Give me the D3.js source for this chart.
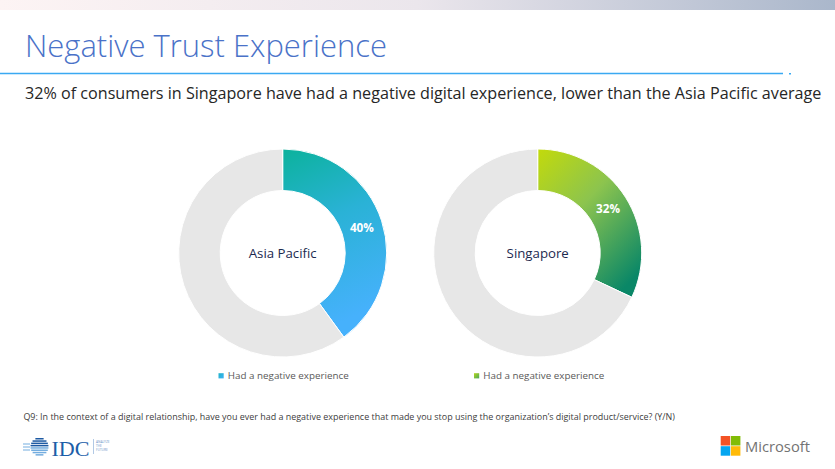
<!DOCTYPE html>
<html><head><meta charset="utf-8">
<script src="https://cdn.jsdelivr.net/npm/d3@7"></script>
<style>
html,body{margin:0;padding:0;background:#fff;}
svg{display:block;}
</style></head>
<body>
<svg id="c" width="835" height="469"></svg>
<script>
// ---- data ----
const regions = ["Asia Pacific", "Singapore"];
const negativeShare = [40, 32];
const seriesLabel = "Had a negative experience";
const titleText = "Negative Trust Experience";
const subtitleText = "32% of consumers in Singapore have had a negative digital experience, lower than the Asia Pacific average";
const footnoteText = "Q9: In the context of a digital relationship, have you ever had a negative experience that made you stop using the organization\u2019s digital product/service? (Y/N)";

const svg = d3.select("#c");
const defs = svg.append("defs");

// top band gradient
const tg = defs.append("linearGradient").attr("id","topband").attr("x1","0").attr("x2","1").attr("y1","0").attr("y2","0");
tg.append("stop").attr("offset","0").attr("stop-color","#fdf4f4");
tg.append("stop").attr("offset","0.5").attr("stop-color","#ebe6ec");
tg.append("stop").attr("offset","1").attr("stop-color","#aab7cb");
svg.append("rect").attr("x",0).attr("y",0).attr("width",835).attr("height",10).attr("fill","url(#topband)");

function fitText(sel, target){
  const w = sel.node().getComputedTextLength();
  const fs = parseFloat(sel.attr("font-size"));
  sel.attr("font-size", fs*target/w);
  return fs*target/w;
}

const title = svg.append("text").attr("x",25).attr("y",57)
  .attr("font-family","'Open Sans', 'Noto Sans', sans-serif").attr("font-weight",300)
  .attr("font-size",34).attr("fill","#4a72c8").text(titleText);
fitText(title, 362);

svg.append("line").attr("x1",0).attr("x2",783).attr("y1",73.5).attr("y2",73.5)
  .attr("stroke","#3aa9f2").attr("stroke-width",1.3);
svg.append("rect").attr("x",789).attr("y",73).attr("width",2).attr("height",1.5).attr("fill","#3aa9f2");

const sub = svg.append("text").attr("x",25).attr("y",99)
  .attr("font-family","'Open Sans', 'Noto Sans', sans-serif").attr("font-weight",400)
  .attr("font-size",18).attr("fill","#262626").text(subtitleText);
fitText(sub, 797);

// gradients for slices
const g1 = defs.append("linearGradient").attr("id","grad0").attr("x1","0").attr("y1","0").attr("x2","0.25").attr("y2","1");
g1.append("stop").attr("offset","0").attr("stop-color","#0bb29c");
g1.append("stop").attr("offset","0.45").attr("stop-color","#2ab2d6");
g1.append("stop").attr("offset","1").attr("stop-color","#46b1fc");
const g2 = defs.append("linearGradient").attr("id","grad1").attr("x1","0").attr("y1","0").attr("x2","0.75").attr("y2","1");
g2.append("stop").attr("offset","0").attr("stop-color","#c3da0b");
g2.append("stop").attr("offset","0.45").attr("stop-color","#8cc44e");
g2.append("stop").attr("offset","1").attr("stop-color","#0a8767");

const centers = d3.scalePoint().domain(regions).range([282.7, 537.7]);
const cy = 253;
const outerR = 104, innerR = 62.5;
const pie = d3.pie().sort(null).value(d=>d);
const arc = d3.arc().innerRadius(innerR).outerRadius(outerR);

let centerFs = null, pctFs = null;
regions.forEach((r,i)=>{
  const g = svg.append("g").attr("transform",`translate(${centers(r)},${cy})`);
  const arcs = pie([negativeShare[i], 100-negativeShare[i]]);
  g.selectAll("path").data(arcs).join("path")
    .attr("d",arc)
    .attr("fill",(d,j)=> j===0 ? `url(#grad${i})` : "#e7e7e7")
    .attr("stroke","#fff").attr("stroke-width",1);
  const c = arc.centroid(arcs[0]);
  const pt = g.append("text").attr("x",c[0]).attr("y",c[1]).attr("dy","0.36em")
    .attr("text-anchor","middle").attr("font-family","'Open Sans', 'Noto Sans', sans-serif")
    .attr("font-weight",700).attr("font-size",pctFs || 12).attr("fill","#fff")
    .text(negativeShare[i] + "%");
  if(pctFs===null) pctFs = fitText(pt, 24);
  const ct = g.append("text").attr("x",0).attr("y",0).attr("dy","0.36em")
    .attr("text-anchor","middle").attr("font-family","'Open Sans', 'Noto Sans', sans-serif")
    .attr("font-size",centerFs || 14.5).attr("fill","#1c2a4f").text(r);
  if(centerFs===null) centerFs = fitText(ct, 68);
  // legend
  const lx = i===0 ? 218.5 : 474;
  const sq = defs.append("linearGradient").attr("id","lg"+i).attr("x1","0").attr("y1","0").attr("x2","1").attr("y2","1");
  sq.append("stop").attr("offset","0").attr("stop-color", i===0 ? "#1fb3c8" : "#b5d51c");
  sq.append("stop").attr("offset","1").attr("stop-color", i===0 ? "#3fb1f5" : "#4aa95a");
  svg.append("rect").attr("x",lx).attr("y",373.2).attr("width",5.2).attr("height",5.2).attr("fill","url(#lg"+i+")");
  const lt = svg.append("text").attr("x",lx+9.3).attr("y",379.3)
    .attr("font-family","'Open Sans', 'Noto Sans', sans-serif").attr("font-size",10)
    .attr("fill","#595959").text(seriesLabel);
  fitText(lt, 121);
});

const foot = svg.append("text").attr("x",23.4).attr("y",419.5)
  .attr("font-family","'Open Sans', 'Noto Sans', sans-serif").attr("font-size",8.5)
  .attr("fill","#404040").text(footnoteText);
fitText(foot, 652);

// IDC logo
const idc = svg.append("g");
const globeC = [39.5, 446.7];
for(let k=0;k<8;k++){
  const y = 438 + k*2.3;
  const dy = y + 0.7 - globeC[1];
  const half = Math.sqrt(Math.max(0, 81 - dy*dy));
  idc.append("rect").attr("x",globeC[0]-half).attr("y",y).attr("width",2*half).attr("height",1.5)
    .attr("fill", k<4 ? "#1d5aa3" : "#74addf");
}
idc.append("rect").attr("x",23).attr("y",443.5).attr("width",7).attr("height",1).attr("fill","#74addf");
idc.append("rect").attr("x",23).attr("y",446.5).attr("width",7).attr("height",1).attr("fill","#74addf");
idc.append("rect").attr("x",23).attr("y",449.5).attr("width",7).attr("height",1).attr("fill","#74addf");
idc.append("text").attr("x",51.5).attr("y",455.5).attr("font-family","'Liberation Serif', 'DejaVu Serif', serif")
  .attr("font-size",22).attr("fill","#1c5ea8").attr("textLength",38).attr("lengthAdjust","spacingAndGlyphs").text("IDC");
idc.append("rect").attr("x",93).attr("y",439).attr("width",0.6).attr("height",15).attr("fill","#7fa6d4");
["ANALYZE","THE","FUTURE"].forEach((t,k)=>{
  idc.append("text").attr("x",96).attr("y",443+k*4).attr("font-family","'Open Sans', sans-serif")
    .attr("font-size",3.2).attr("fill","#6e95c8").text(t);
});

// Microsoft logo
const ms = svg.append("g");
const msCols = ["#f35325","#81bc06","#05a6f0","#ffba08"];
msCols.forEach((col,k)=>{
  ms.append("rect").attr("x",720.7 + (k%2)*10.2).attr("y",436 + Math.floor(k/2)*10.2)
    .attr("width",9.5).attr("height",9.5).attr("fill",col);
});
const mt = ms.append("text").attr("x",745).attr("y",452).attr("font-family","'Open Sans', 'Noto Sans', sans-serif")
  .attr("font-weight",500).attr("font-size",16).attr("fill","#737373").text("Microsoft");
fitText(mt, 65);
</script>
</body></html>
